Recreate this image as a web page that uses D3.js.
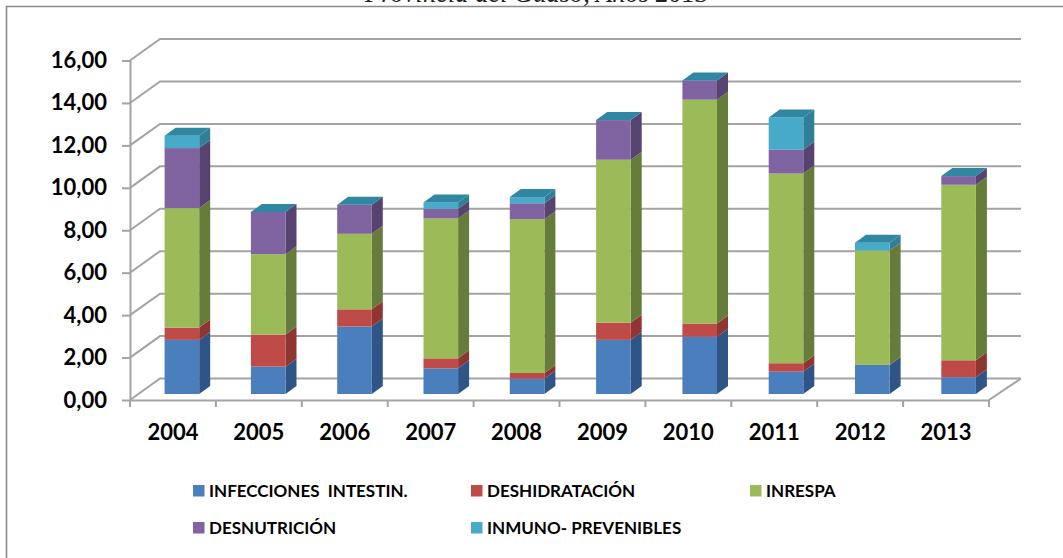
<!DOCTYPE html>
<html>
<head>
<meta charset="utf-8">
<script src="https://cdn.jsdelivr.net/npm/d3@7"></script>
<style>
  html, body { margin: 0; padding: 0; background: #fff; }
  svg { display: block; }
  text { font-family: Lato, "Open Sans", sans-serif; font-weight: 700; fill: #000; }
  .title { font-family: "Liberation Serif", serif; font-style: italic; font-weight: 400; font-size: 26.5px; fill: #222; }
</style>
</head>
<body>
<svg id="chart" width="1063" height="558"></svg>
<script>
const years = ["2004","2005","2006","2007","2008","2009","2010","2011","2012","2013"];
const seriesNames = ["INFECCIONES  INTESTIN.","DESHIDRATACIÓN","INRESPA","DESNUTRICIÓN","INMUNO- PREVENIBLES"];
const infecciones = [2.55,1.29,3.18,1.21,0.72,2.55,2.70,1.05,1.37,0.79];
const deshidratacion = [0.58,1.51,0.81,0.47,0.27,0.81,0.62,0.40,0.00,0.80];
const inrespa = [5.63,3.79,3.56,6.59,7.25,7.68,10.55,8.94,5.39,8.27];
const desnutricion = [2.83,1.99,1.37,0.46,0.75,1.87,0.91,1.12,0.00,0.41];
const inmuno = [0.58,0.00,0.00,0.30,0.29,0.00,0.00,1.52,0.37,0.00];
const yTicks = [0,2,4,6,8,10,12,14,16];
const faceColors = ["#4a7ebd","#be4b48","#9bbb59","#8064a2","#46aac8"];
const sideColors = ["#2f5486","#8f3633","#667c3a","#574370","#2f7f99"];
const topColor = "#2f87a1";

const svg = d3.select("#chart");

// Outer frame: only the left and top edges fall inside the page.
svg.append("path").attr("d", "M6.5,558V6.5H1063").attr("fill", "none").attr("stroke", "#8a8a8a").attr("stroke-width", 1.6);

svg.append("text").attr("class", "title").attr("x", 365).attr("y", 2).attr("text-anchor", "start")
  .text("Provincia del Guaso, Años 2013");

// Front plane of the box, wall depth, and the plane the bars stand on.
const x = d3.scaleBand().domain(years).range([130, 989]);
const y = d3.scaleLinear().domain([0, 16]).range([400, 60.5]);
const wallDx = 30, wallDy = -21.5;
const barX = d3.scaleBand().domain(years).range([133, 996]);
const barInset = 31.6, barW = 34.6, sideDx = 11, sideDy = -8, barLift = -6;
const barY = v => y(v) + barLift;

// Walls and floor
const grid = svg.append("g").attr("fill", "none").attr("stroke", "#a3a3a3").attr("stroke-width", 2);
yTicks.forEach(t => {
  grid.append("path").attr("d", d3.line()([
    [x.range()[0], y(t)],
    [x.range()[0] + wallDx, y(t) + wallDy],
    [x.range()[1] + wallDx + 2, y(t) + wallDy]
  ]));
});
grid.append("path").attr("d", d3.line()([
  [x.range()[1], y(0)],
  [x.range()[1] + wallDx + 2, y(0) + wallDy]
]));

// Axes
const tickStyle = g => {
  g.select(".domain").attr("stroke", "#a3a3a3").attr("stroke-width", 2);
  g.selectAll(".tick line").attr("stroke", "#a3a3a3").attr("stroke-width", 2);
  g.selectAll("text").attr("font-size", 22).attr("font-family", null);
  g.attr("font-family", null);
};
svg.append("g").attr("transform", `translate(${x.range()[0]},0)`)
  .call(d3.axisLeft(y).tickValues(yTicks).tickSize(8).tickSizeOuter(0).tickPadding(15)
    .tickFormat(d => d3.format(".2f")(d).replace(".", ",")))
  .call(tickStyle);

const bottom = svg.append("g").attr("transform", `translate(0,${y(0)})`)
  .call(d3.axisBottom(x).tickSize(0).tickPadding(24))
  .call(tickStyle);
bottom.selectAll(".tick-mark")
  .data(d3.range(years.length + 1))
  .join("line")
  .attr("x1", i => x.range()[0] + i * x.step())
  .attr("x2", i => x.range()[0] + i * x.step())
  .attr("y1", 0).attr("y2", 7)
  .attr("stroke", "#a3a3a3").attr("stroke-width", 2);

// Stacked 3D columns; the last series always caps the column, even at zero height.
const rows = years.map((yr, i) => ({
  year: yr, s0: infecciones[i], s1: deshidratacion[i], s2: inrespa[i], s3: desnutricion[i], s4: inmuno[i]
}));
const keys = ["s0","s1","s2","s3","s4"];
const stacked = d3.stack().keys(keys)(rows);

const poly = d3.line();
rows.forEach((row, i) => {
  const g = svg.append("g");
  const left = barX(row.year) + barInset, right = left + barW;
  stacked.forEach((layer, k) => {
    const [v0, v1] = layer[i];
    if (v1 > v0) {
      g.append("path").attr("fill", sideColors[k]).attr("d", poly([
        [right, barY(v0)], [right + sideDx, barY(v0) + sideDy],
        [right + sideDx, barY(v1) + sideDy], [right, barY(v1)]
      ]) + "Z");
      g.append("rect").attr("fill", faceColors[k])
        .attr("x", left).attr("y", barY(v1)).attr("width", barW).attr("height", barY(v0) - barY(v1));
    }
  });
  const total = stacked[stacked.length - 1][i][1];
  g.append("path").attr("fill", topColor).attr("d", poly([
    [left, barY(total)], [left + sideDx, barY(total) + sideDy],
    [right + sideDx, barY(total) + sideDy], [right, barY(total)]
  ]) + "Z");
});

// Legend, two rows of three columns
const legendCols = [193, 471, 750];
const legendRows = [485, 522];
const legend = svg.append("g");
seriesNames.forEach((name, i) => {
  const cx = legendCols[i % 3], cy = legendRows[Math.floor(i / 3)];
  legend.append("rect").attr("x", cx).attr("y", cy).attr("width", 11.5).attr("height", 11.5).attr("fill", faceColors[i]);
  legend.append("text").attr("x", cx + 16).attr("y", cy + 12).attr("font-size", 17)
    .attr("xml:space", "preserve").style("white-space", "pre").text(name);
});
</script>
</body>
</html>
